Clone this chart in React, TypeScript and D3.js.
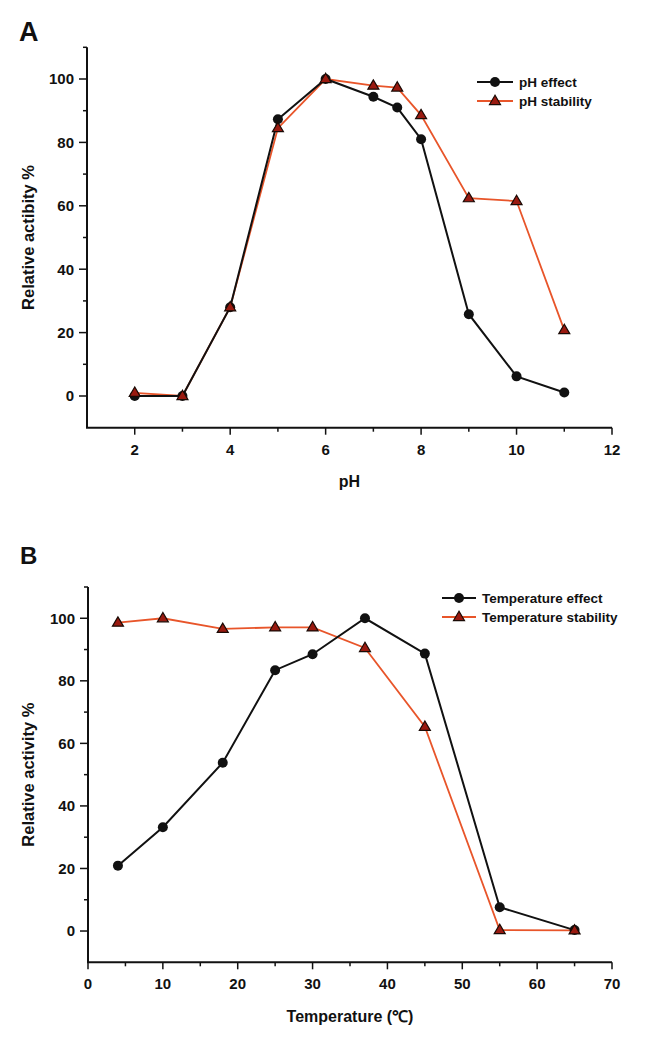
import React from "react";
import * as d3 from "d3";

const phX = [2, 3, 4, 5, 6, 7, 7.5, 8, 9, 10, 11];
const phEffect = [0, 0, 28, 87.3, 100, 94.4, 91, 81, 25.8, 6.2, 1.1];
const phStability = [1, 0, 28, 84.5, 100, 97.9, 97.3, 88.6, 62.4, 61.5, 20.8];

const tempX = [4, 10, 18, 25, 30, 37, 45, 55, 65];
const tempEffect = [20.9, 33.2, 53.8, 83.4, 88.5, 100, 88.7, 7.6, 0.3];
const tempStability = [98.6, 100, 96.6, 97.1, 97.1, 90.5, 65.3, 0.3, 0.2];

const yMajor = [0, 20, 40, 60, 80, 100];
const yMinor = [10, 30, 50, 70, 90, 110];
const phMajor = [2, 4, 6, 8, 10, 12];
const phMinor = [3, 5, 7, 9, 11];
const tMajor = [0, 10, 20, 30, 40, 50, 60, 70];
const tMinor = [5, 15, 25, 35, 45, 55, 65];

const FONT = "'Liberation Sans', Arial, Helvetica, sans-serif";
const BLACK = "#111";
const ORANGE = "#e8552a";
const TRI_FILL = "#9a1a10";

function Triangle({ cx, cy, s = 11 }: { cx: number; cy: number; s?: number }) {
  const h = s * 0.85;
  const p = `${cx},${cy - h * 0.62} ${cx - s / 2},${cy + h * 0.38} ${cx + s / 2},${cy + h * 0.38}`;
  return <polygon points={p} fill={TRI_FILL} stroke="#1a0a05" strokeWidth={1.2} />;
}

type PanelProps = {
  letter: string;
  letterSize: number;
  letterX: number;
  letterY: number;
  xs: number[];
  s1: number[];
  s2: number[];
  xDomain: [number, number];
  xRange: [number, number];
  yRange: [number, number];
  xMajor: number[];
  xMinor: number[];
  xTitle: string;
  xTitleY: number;
  yTitle: string;
  legend: [string, string];
  legendX: number;
  legendY: number;
  legendLen: number;
};

function Panel(p: PanelProps) {
  const x = d3.scaleLinear().domain(p.xDomain).range(p.xRange);
  const y = d3.scaleLinear().domain([-10, 110]).range(p.yRange);
  const line = d3
    .line<number>()
    .x((_, i) => x(p.xs[i]))
    .y((d) => y(d));
  const x0 = x(p.xDomain[0]);
  const x1 = x(p.xDomain[1]);
  const yb = y(-10);
  const yt = y(110);
  const lx = p.legendX;
  const ll = p.legendLen;
  return (
    <g fontFamily={FONT} fontWeight="bold" fill={BLACK}>
      <text x={p.letterX} y={p.letterY} fontSize={p.letterSize}>
        {p.letter}
      </text>
      {/* axes */}
      <line x1={x0} x2={x0} y1={yt} y2={yb} stroke={BLACK} strokeWidth={2} />
      <line x1={x0 - 1} x2={x1} y1={yb} y2={yb} stroke={BLACK} strokeWidth={2} />
      {yMajor.map((v) => (
        <g key={"ym" + v}>
          <line x1={x0 - 8} x2={x0} y1={y(v)} y2={y(v)} stroke={BLACK} strokeWidth={1.5} />
          <text x={x0 - 13} y={y(v)} dy="0.36em" textAnchor="end" fontSize={15}>
            {v}
          </text>
        </g>
      ))}
      {yMinor.map((v) => (
        <line key={"yn" + v} x1={x0 - 4} x2={x0} y1={y(v)} y2={y(v)} stroke={BLACK} strokeWidth={1.5} />
      ))}
      {p.xMajor.map((v) => (
        <g key={"xm" + v}>
          <line x1={x(v)} x2={x(v)} y1={yb} y2={yb + 7} stroke={BLACK} strokeWidth={1.5} />
          <text x={x(v)} y={yb + 27} textAnchor="middle" fontSize={15}>
            {v}
          </text>
        </g>
      ))}
      {p.xMinor.map((v) => (
        <line key={"xn" + v} x1={x(v)} x2={x(v)} y1={yb} y2={yb + 4} stroke={BLACK} strokeWidth={1.5} />
      ))}
      <text x={(x0 + x1) / 2} y={p.xTitleY} textAnchor="middle" fontSize={16}>
        {p.xTitle}
      </text>
      <text
        transform={`translate(34,${(yt + yb) / 2}) rotate(-90)`}
        textAnchor="middle"
        fontSize={16.5}
      >
        {p.yTitle}
      </text>
      {/* series */}
      <path d={line(p.s2) || ""} fill="none" stroke={ORANGE} strokeWidth={1.8} />
      <path d={line(p.s1) || ""} fill="none" stroke={BLACK} strokeWidth={2} />
      {p.s1.map((v, i) => (
        <circle key={"c" + i} cx={x(p.xs[i])} cy={y(v)} r={5} fill={BLACK} />
      ))}
      {p.s2.map((v, i) => (
        <Triangle key={"t" + i} cx={x(p.xs[i])} cy={y(v)} />
      ))}
      {/* legend */}
      <line x1={lx} x2={lx + ll} y1={p.legendY} y2={p.legendY} stroke={BLACK} strokeWidth={2} />
      <circle cx={lx + ll / 2} cy={p.legendY} r={5} fill={BLACK} />
      <text x={lx + ll + 6} y={p.legendY} dy="0.36em" fontSize={13.5}>
        {p.legend[0]}
      </text>
      <line x1={lx} x2={lx + ll} y1={p.legendY + 19} y2={p.legendY + 19} stroke={ORANGE} strokeWidth={1.8} />
      <Triangle cx={lx + ll / 2} cy={p.legendY + 19} />
      <text x={lx + ll + 6} y={p.legendY + 19} dy="0.36em" fontSize={13.5}>
        {p.legend[1]}
      </text>
    </g>
  );
}

export default function App() {
  return (
    <svg
      width={646}
      height={1048}
      style={{ position: "absolute", left: 0, top: 0, background: "#fff" }}
    >
      <rect width={646} height={1048} fill="#fff" />
      <Panel
        letter="A"
        letterSize={27}
        letterX={19}
        letterY={41}
        xs={phX}
        s1={phEffect}
        s2={phStability}
        xDomain={[1, 12]}
        xRange={[87, 612]}
        yRange={[427.7, 47.3]}
        xMajor={phMajor}
        xMinor={phMinor}
        xTitle="pH"
        xTitleY={487}
        yTitle="Relative actibity %"
        legend={["pH effect", "pH stability"]}
        legendX={477}
        legendY={82}
        legendLen={36}
      />
      <Panel
        letter="B"
        letterSize={24}
        letterX={20}
        letterY={564}
        xs={tempX}
        s1={tempEffect}
        s2={tempStability}
        xDomain={[0, 70]}
        xRange={[88, 612]}
        yRange={[962.3, 587]}
        xMajor={tMajor}
        xMinor={tMinor}
        xTitle="Temperature (℃)"
        xTitleY={1022}
        yTitle="Relative activity %"
        legend={["Temperature effect", "Temperature stability"]}
        legendX={442}
        legendY={598}
        legendLen={34}
      />
    </svg>
  );
}
